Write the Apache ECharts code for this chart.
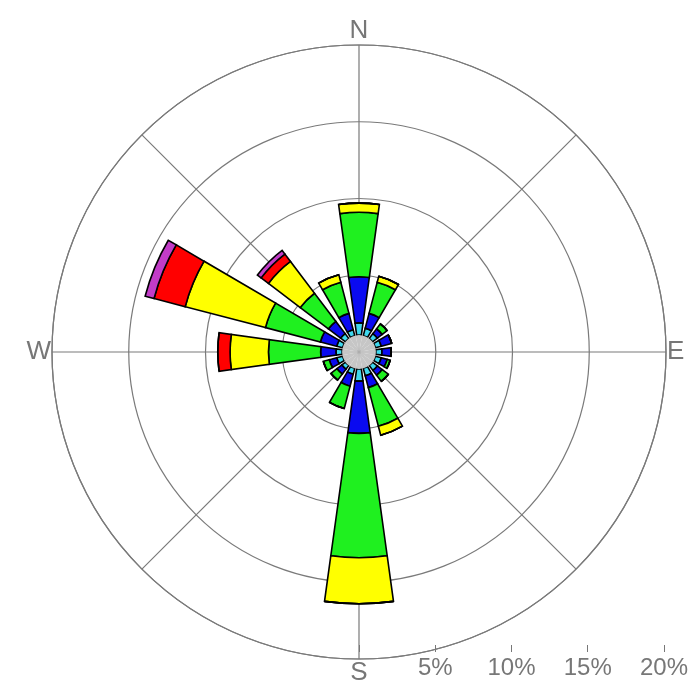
<!DOCTYPE html>
<html>
<head>
<meta charset="utf-8">
<title>Wind Rose</title>
<script src="https://cdn.jsdelivr.net/npm/echarts@6/dist/echarts.min.js"></script>
<style>
  html, body { margin: 0; padding: 0; background: #ffffff; }
  #chart { width: 691px; height: 700px; }
</style>
</head>
<body>
<div id="chart"></div>
<script>
// Wind direction sectors, clockwise from north
const directions = ['N', 'NNE', 'NE', 'ENE', 'E', 'ESE', 'SE', 'SSE',
                    'S', 'SSW', 'SW', 'WSW', 'W', 'WNW', 'NW', 'NNW'];

// Calm frequency (%) - the grey disc in the middle; petals start at its edge
const calmPct = 1.1;

// Frequency (%) per speed class, per direction (stacked outward)
const speedClass1 = [0.8, 0.5, 0.4, 0.4, 0.4, 0.4, 0.4, 0.5, 0.8, 0.4, 0.3, 0.4, 0.4, 0.4, 0.4, 0.4];
const speedClass2 = [3.0, 1.0, 0.4, 0.7, 0.6, 0.4, 0.4, 0.8, 3.4, 0.8, 0.4, 0.5, 1.0, 1.1, 1.0, 1.1];
const speedClass3 = [4.2, 2.1, 0.4, 0.0, 0.0, 0.2, 0.5, 2.6, 8.1, 1.5, 0.5, 0.4, 3.4, 3.7, 2.3, 2.1];
const speedClass4 = [0.6, 0.4, 0.0, 0.0, 0.0, 0.0, 0.0, 0.6, 3.0, 0.0, 0.0, 0.0, 2.5, 5.4, 2.6, 0.5];
const speedClass5 = [0.0, 0.0, 0.0, 0.0, 0.0, 0.0, 0.0, 0.0, 0.0, 0.0, 0.0, 0.0, 0.8, 2.1, 0.6, 0.0];
const speedClass6 = [0.0, 0.0, 0.0, 0.0, 0.0, 0.0, 0.0, 0.0, 0.0, 0.0, 0.0, 0.0, 0.0, 0.6, 0.3, 0.0];

// Frequency rings and their labels
const ringMax = 20;
const ringStep = 5;
const compassLabels = { 0: 'N', 90: 'E', 180: 'S', 270: 'W' };

const classColors = ['#3fd8ee', '#0a0af0', '#1ff01f', '#ffff00', '#ff0000', '#c23cc8'];
const classData = [speedClass1, speedClass2, speedClass3, speedClass4, speedClass5, speedClass6];

const CX = 359, CY = 352, R = 307;
const gridGrey = '#7a7a7a';
const textGrey = '#777777';
const fontFam = '"Liberation Sans", Arial, sans-serif';

const chart = echarts.init(document.getElementById('chart'), null, { renderer: 'canvas' });

const polarBase = { center: [CX, CY], radius: [0, R] };
const halfSector = 360 / directions.length / 2;

const windSeries = classData.map((vals, i) => ({
  type: 'bar',
  name: 'class' + (i + 1),
  coordinateSystem: 'polar',
  polarIndex: 1,
  stack: 'wind',
  data: vals,
  barCategoryGap: '30%',
  itemStyle: { color: classColors[i], borderColor: '#000', borderWidth: 1.6 },
  silent: true,
  z: 3
}));

const option = {
  backgroundColor: '#ffffff',
  animation: false,
  polar: [
    Object.assign({}, polarBase),   // rings, spokes, compass letters
    Object.assign({}, polarBase),   // wind petals
    Object.assign({}, polarBase)    // calm disc
  ],
  angleAxis: [
    {
      polarIndex: 0, type: 'value', min: 0, max: 360, interval: 45,
      startAngle: 90, clockwise: true,
      axisLine: { show: true, lineStyle: { color: gridGrey, width: 1.2 } },
      axisTick: { show: false },
      splitLine: { show: true, lineStyle: { color: gridGrey, width: 1.2 } },
      axisLabel: {
        margin: 1, color: textGrey, fontSize: 26, fontFamily: fontFam,
        formatter: v => compassLabels[v] !== undefined && v !== 360 ? compassLabels[v] : ''
      },
      z: 1
    },
    {
      polarIndex: 1, type: 'category', data: directions,
      startAngle: 90 + halfSector, clockwise: true, boundaryGap: true,
      axisLine: { show: false }, axisTick: { show: false },
      axisLabel: { show: false }, splitLine: { show: false }
    },
    {
      polarIndex: 2, type: 'category', data: directions,
      startAngle: 90 + halfSector, clockwise: true, boundaryGap: true,
      axisLine: { show: false }, axisTick: { show: false },
      axisLabel: { show: false }, splitLine: { show: false }
    }
  ],
  radiusAxis: [
    {
      polarIndex: 0, type: 'value', min: 0, max: ringMax, interval: ringStep,
      axisLine: { show: false }, axisTick: { show: false }, axisLabel: { show: false },
      splitLine: { show: true, lineStyle: { color: gridGrey, width: 1.2 } }
    },
    {
      polarIndex: 1, type: 'value', min: 0, max: ringMax,
      axisLine: { show: false }, axisTick: { show: false }, axisLabel: { show: false },
      splitLine: { show: false }
    },
    {
      polarIndex: 2, type: 'value', min: 0, max: ringMax,
      axisLine: { show: false }, axisTick: { show: false }, axisLabel: { show: false },
      splitLine: { show: false }
    }
  ],
  // horizontal percentage scale under the rose
  grid: { left: CX, width: R, top: 600, height: 45, containLabel: false },
  xAxis: {
    type: 'value', min: 0, max: ringMax, interval: ringStep,
    axisLine: { show: false },
    axisTick: { show: true, length: 7, lineStyle: { color: textGrey, width: 1 } },
    splitLine: { show: false },
    axisLabel: {
      margin: 11, color: textGrey, fontSize: 24, fontFamily: fontFam,
      formatter: v => v === 0 ? '' : v + '%'
    }
  },
  yAxis: { type: 'value', show: false, min: 0, max: 1 },
  series: [
    {
      // offset so petals begin at the edge of the calm disc
      type: 'bar', name: 'calmBase', coordinateSystem: 'polar', polarIndex: 1,
      stack: 'wind', data: directions.map(() => calmPct),
      itemStyle: { color: 'rgba(0,0,0,0)', borderWidth: 0 }, silent: true
    },
    ...windSeries,
    {
      type: 'bar', name: 'calm', coordinateSystem: 'polar', polarIndex: 2,
      data: directions.map(() => calmPct), barCategoryGap: '0%',
      itemStyle: { color: '#c6c6c6', borderWidth: 0 }, silent: true, z: 5
    }
  ]
};

chart.setOption(option);
</script>
</body>
</html>
